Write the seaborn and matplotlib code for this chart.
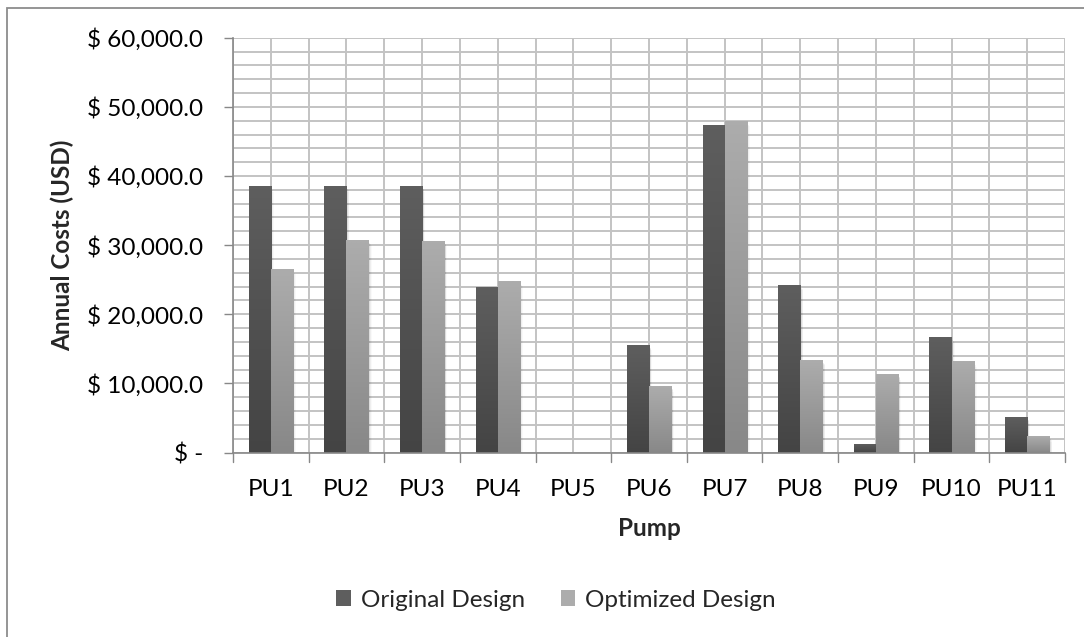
import numpy as np
import pandas as pd
import matplotlib
matplotlib.use("Agg")
import matplotlib.pyplot as plt
from matplotlib.colors import LinearSegmentedColormap
from matplotlib.patches import Rectangle
from matplotlib.ticker import MultipleLocator, FuncFormatter
import seaborn as sns

pumps = ["PU1", "PU2", "PU3", "PU4", "PU5", "PU6", "PU7", "PU8", "PU9", "PU10", "PU11"]
original = [38550, 38550, 38550, 23950, 0, 15560, 47400, 24240, 1230, 16720, 5140]
optimized = [26560, 30750, 30610, 24820, 0, 9620, 48020, 13390, 11360, 13240, 2390]
series = ["Original Design", "Optimized Design"]
yticks = [0, 10000, 20000, 30000, 40000, 50000, 60000]

df = pd.DataFrame({
    "Pump": pumps * 2,
    "Cost": original + optimized,
    "Design": [series[0]] * len(pumps) + [series[1]] * len(pumps),
})

sns.set_style("white")
plt.rcParams["font.family"] = ["Lato", "DejaVu Sans"]
FS = 17.5

fig = plt.figure(figsize=(10.84, 6.37), dpi=100)
ax = fig.add_axes([0.2149, 0.2896, 0.7676, 0.6512])

# outer chart frame (left and top edges visible)
fig.add_artist(Rectangle((7 / 1084, -0.1), 1.2, (637 - 8) / 637 + 0.1,
                         transform=fig.transFigure, fill=False,
                         edgecolor="#8c8c8c", linewidth=1.3, zorder=0))

fills = {series[0]: ("#5e5e5e", "#444444"), series[1]: ("#acacac", "#888888")}
sns.barplot(data=df, x="Pump", y="Cost", hue="Design", order=pumps,
            hue_order=series, palette=[fills[s][0] for s in series],
            width=0.585, gap=0, ax=ax, legend=False, zorder=3,
            edgecolor="none", linewidth=0)

ax.set_xlim(-0.5, len(pumps) - 0.5)
ax.set_ylim(0, 60000)

# vertical gradient + soft shadow on every bar
for cont, s in zip(ax.containers, series):
    top_c, bot_c = fills[s]
    cmap = LinearSegmentedColormap.from_list(s, [bot_c, top_c])
    for bar in cont:
        x, w, h = bar.get_x(), bar.get_width(), bar.get_height()
        if h <= 0:
            continue
        for k, a in enumerate([0.10, 0.07, 0.045, 0.025]):
            ax.add_patch(Rectangle((x + 0.01 * (k + 1), 0), w, h - 200 * (k + 1),
                                   facecolor="black", alpha=a, edgecolor="none",
                                   zorder=2.5))
        grad = np.linspace(0, 1, 64).reshape(-1, 1)
        ax.imshow(grad, extent=[x, x + w, 0, h], origin="lower", cmap=cmap,
                  aspect="auto", zorder=3.2, interpolation="bilinear")
        bar.set_visible(False)

ax.set_xlim(-0.5, len(pumps) - 0.5)
ax.set_ylim(0, 60000)

# gridlines
ax.yaxis.set_major_locator(MultipleLocator(10000))
ax.yaxis.set_minor_locator(MultipleLocator(2000))
ax.set_xticks(np.arange(len(pumps)))
ax.set_xticks(np.arange(-0.5, len(pumps), 0.5), minor=True)
ax.grid(which="both", axis="both", color="#c3c3c3", linewidth=1.4, zorder=1)
ax.set_axisbelow(True)

def money(v, pos):
    if v == 0:
        return "$ -"
    return f"$ {v:,.1f}"

ax.set_yticks(yticks)
ax.yaxis.set_major_formatter(FuncFormatter(money))
ax.tick_params(axis="y", which="major", left=True, length=6.5, width=1,
               color="#888888", labelsize=FS, pad=15, labelcolor="black")
ax.tick_params(axis="y", which="minor", left=False)
ax.tick_params(axis="x", which="major", bottom=False, length=0, labelsize=FS,
               pad=19, labelcolor="black")
ax.tick_params(axis="x", which="minor", bottom=False)

# category boundary ticks below the axis
for b in np.arange(-0.5, len(pumps), 1.0):
    ax.plot([b, b], [0, -0.022], transform=ax.get_xaxis_transform(),
            color="#888888", linewidth=1, clip_on=False, zorder=4)

for side in ["top", "right"]:
    ax.spines[side].set_visible(False)
for side in ["left", "bottom"]:
    ax.spines[side].set_color("#888888")
    ax.spines[side].set_linewidth(1.2)
    ax.spines[side].set_zorder(4)

ax.set_xlabel("Pump", fontsize=FS, fontweight="bold", labelpad=12)
ax.set_ylabel("Annual Costs (USD)", fontsize=FS, fontweight="bold", labelpad=9)

handles = [Rectangle((0, 0), 1, 1, facecolor=fills[s][0], edgecolor="none")
           for s in series]
fig.legend(handles, series, loc="center", bbox_to_anchor=(0.513, 0.058),
           ncol=2, frameon=False, fontsize=FS, handlelength=0.6,
           handleheight=0.6, handletextpad=0.4, columnspacing=1.48)

fig.savefig("out.png", dpi=100)
